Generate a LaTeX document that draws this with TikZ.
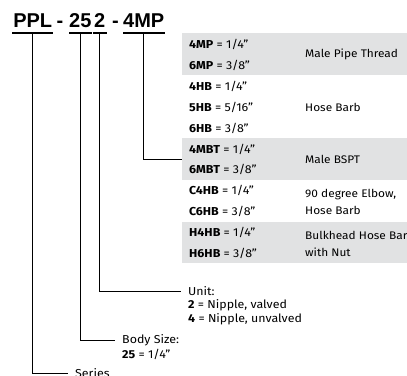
\documentclass[tikz,border=0pt]{standalone}
\usepackage{fontspec}
\setmainfont{Fira Sans}[FakeStretch=1.08]
\newfontfamily\titlefont{Liberation Sans}
\usetikzlibrary{positioning}
\definecolor{rowgray}{RGB}{225,226,227}

\begin{document}
\begin{tikzpicture}[x=1pt, y=-1pt, font=\fontsize{11.5}{13}\selectfont,
    title/.style={font=\fontsize{20}{22}\selectfont\titlefont\bfseries, inner xsep=0pt, inner ysep=0pt, text depth=6pt, anchor=base west},
    uline/.style={line width=1.6pt},
    conn/.style={line width=0.9pt},
    graybar/.style={fill=rowgray, draw=none, minimum width=240pt, anchor=north west, inner sep=0pt},
    entry/.style={anchor=west, inner sep=0pt},
    desc/.style={anchor=west, inner sep=0pt, align=left, font=\fontsize{11}{16.5}\selectfont},
    lbl/.style={anchor=west, inner ysep=0pt, inner xsep=7pt}]
    \useasboundingbox (0,0) rectangle (407,375);
    \clip (0,0) rectangle (407,375);

    % part number
    \node[title, minimum width=41pt] (ppl) at (12,27) {PPL};
    \node[title, anchor=base] (dasha) at (60,27) {-};
    \node[title, minimum width=22pt] (sz) at (69,27) {25};
    \node[title, minimum width=14pt] (un) at (92.5,27) {2};
    \node[title, anchor=base] (dashb) at (115.5,27) {-};
    \node[title, minimum width=40pt] (ft) at (123,27) {4MP};
    \draw[uline] (ppl.south west) -- (ppl.south east);
    \draw[uline] (sz.south west) -- (sz.south east);
    \draw[uline] (un.south west) -- (un.south east);
    \draw[uline] (ft.south west) -- (ft.south east);

    % fitting table
    \node[graybar, minimum height=42pt] (rowmp) at (182,33) {};
    \node[graybar, fill=white, minimum height=63pt] (rowhb) at (182,75) {};
    \node[graybar, minimum height=42pt] (rowmbt) at (182,138) {};
    \node[graybar, fill=white, minimum height=42pt] (rowchb) at (182,180) {};
    \node[graybar, minimum height=41pt] (rowhhb) at (182,222) {};

    \node[entry] (mpa) at (189,44) {\textbf{4MP} = 1/4"};
    \node[entry] (mpb) at (189,65) {\textbf{6MP} = 3/8"};
    \node[entry] (hba) at (189,86) {\textbf{4HB} = 1/4"};
    \node[entry] (hbb) at (189,107) {\textbf{5HB} = 5/16"};
    \node[entry] (hbc) at (189,128) {\textbf{6HB} = 3/8"};
    \node[entry] (mbta) at (189,149) {\textbf{4MBT} = 1/4"};
    \node[entry] (mbtb) at (189,169) {\textbf{6MBT} = 3/8"};
    \node[entry] (chba) at (189,190) {\textbf{C4HB} = 1/4"};
    \node[entry] (chbb) at (189,211) {\textbf{C6HB} = 3/8"};
    \node[entry] (hhba) at (189,232) {\textbf{H4HB} = 1/4"};
    \node[entry] (hhbb) at (189,253) {\textbf{H6HB} = 3/8"};

    \node[desc] (dmp) at (305,54.5) {Male Pipe Thread};
    \node[desc] (dhb) at (305,107) {Hose Barb};
    \node[desc] (dmbt) at (305,159) {Male BSPT};
    \node[desc] (dchb) at (305,202) {90 degree Elbow,\\Hose Barb};
    \node[desc] (dhhb) at (305,244) {Bulkhead Hose Barb\\with Nut};

    % unit, body size, series
    \node[lbl] (unit) at (181,291) {Unit:};
    \node[entry] (unitv) at (188,305) {\textbf{2} = Nipple, valved};
    \node[entry] (unitu) at (188,319) {\textbf{4} = Nipple, unvalved};
    \node[lbl] (body) at (115,340) {Body Size:};
    \node[entry] (bodyv) at (122,354) {\textbf{25} = 1/4"};
    \node[lbl] (series) at (68,373.5) {Series};

    \draw[conn] (ppl.south) |- (series.west);
    \draw[conn] (sz.south) |- (body.west);
    \draw[conn] (un.south) |- (unit.west);
    \draw[conn] (ft.south) |- (rowmbt.west);
\end{tikzpicture}
\end{document}
